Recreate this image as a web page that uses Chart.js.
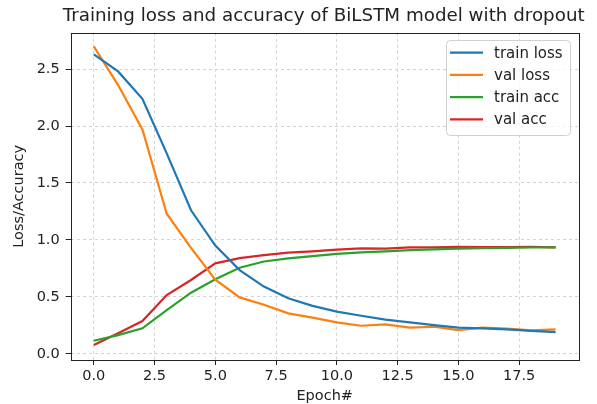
<!DOCTYPE html>
<html><head><meta charset="utf-8">
<script src="https://cdn.jsdelivr.net/npm/chart.js@4.4.0/dist/chart.umd.min.js"></script>
<style>html,body{margin:0;padding:0;background:#fff;overflow:hidden}#wrap{width:597px;height:404px;position:relative}</style>
</head><body><div id="wrap"><canvas id="c" width="597" height="404"></canvas></div>
<script>
const epochs = [0,1,2,3,4,5,6,7,8,9,10,11,12,13,14,15,16,17,18,19];
const trainLoss = [2.63,2.48,2.24,1.76,1.26,0.95,0.735,0.59,0.487,0.42,0.37,0.334,0.30,0.276,0.252,0.229,0.223,0.214,0.20,0.19];
const valLoss = [2.70,2.36,1.97,1.23,0.93,0.65,0.495,0.43,0.355,0.317,0.275,0.246,0.258,0.229,0.237,0.208,0.229,0.22,0.205,0.214];
const trainAcc = [0.114,0.164,0.223,0.384,0.536,0.654,0.755,0.81,0.838,0.858,0.877,0.89,0.9,0.91,0.917,0.923,0.927,0.93,0.933,0.935];
const valAcc = [0.076,0.18,0.287,0.516,0.648,0.794,0.84,0.867,0.888,0.9,0.914,0.926,0.923,0.935,0.935,0.94,0.937,0.937,0.94,0.935];
const seriesNames = ['train loss','val loss','train acc','val acc'];
const xTicks = [0,2.5,5,7.5,10,12.5,15,17.5];
const yTicks = [0,0.5,1,1.5,2,2.5];
const titleText = 'Training loss and accuracy of BiLSTM model with dropout';
const xLabel = 'Epoch#';
const yLabel = 'Loss/Accuracy';

const FONT = "'DejaVu Sans', sans-serif";
const colors = ['#1f77b4','#ff7f0e','#2ca02c','#d62728'];
const allSeries = [trainLoss, valLoss, trainAcc, valAcc];

const datasets = allSeries.map((arr, k) => ({
  label: seriesNames[k],
  data: epochs.map((e, i) => ({x: e, y: arr[i]})),
  borderColor: colors[k],
  backgroundColor: colors[k],
  borderWidth: 2.2,
  pointRadius: 0,
  tension: 0,
  fill: false
}));

const framePlugin = {
  id: 'frame',
  afterDraw(chart) {
    const {ctx, chartArea: a} = chart;
    ctx.save();
    ctx.strokeStyle = '#222';
    ctx.lineWidth = 1;
    ctx.strokeRect(Math.round(a.left) + 0.5, Math.round(a.top) + 0.5, Math.round(a.right - a.left), Math.round(a.bottom - a.top));
    // title centred over the plot area
    ctx.font = '18.3px ' + FONT;
    ctx.fillStyle = '#222';
    ctx.textAlign = 'center';
    ctx.textBaseline = 'middle';
    ctx.fillText(titleText, (a.left + a.right) / 2 - 1, 16.5);
    // legend
    const bx = 446, by = 40, bw = 124, bh = 95, r = 4;
    ctx.beginPath();
    ctx.roundRect(bx + 0.5, by + 0.5, bw, bh, r);
    ctx.fillStyle = 'rgba(255,255,255,0.8)';
    ctx.fill();
    ctx.strokeStyle = '#d0d0d0';
    ctx.stroke();
    ctx.font = '15px ' + FONT;
    ctx.textBaseline = 'middle';
    ctx.textAlign = 'left';
    chart.data.datasets.forEach((ds, i) => {
      const y = 52.7 + i * 22.2;
      ctx.beginPath();
      ctx.strokeStyle = ds.borderColor;
      ctx.lineWidth = 2.2;
      ctx.moveTo(450, y);
      ctx.lineTo(483, y);
      ctx.stroke();
      ctx.fillStyle = '#222';
      ctx.fillText(ds.label, 494, y + 1);
    });
    ctx.restore();
  }
};

new Chart(document.getElementById('c'), {
  type: 'line',
  data: {datasets},
  options: {
    responsive: false,
    animation: false,
    devicePixelRatio: 1,
    layout: {padding: {left: 0, right: 18.3, top: 32.7, bottom: 0}},
    plugins: {
      legend: {display: false},
      tooltip: {enabled: false},
      title: {display: false}
    },
    scales: {
      x: {
        type: 'linear', min: -0.95, max: 19.95,
        afterFit(s) { s.height = 44; },
        afterBuildTicks(s) { s.ticks = xTicks.map(v => ({value: v})); },
        ticks: {color: '#222', font: {family: FONT, size: 14.5}, padding: 3,
          maxRotation: 0, autoSkip: false, callback: v => Number(v).toFixed(1)},
        grid: {color: '#d3d3d3', lineWidth: 1, tickColor: '#222', tickLength: 5, tickWidth: 1},
        border: {display: false, dash: [3, 3]},
        title: {display: true, text: xLabel, color: '#222', font: {family: FONT, size: 14.5}, padding: {top: 0, bottom: -1}}
      },
      y: {
        type: 'linear', min: -0.055, max: 2.82,
        afterFit(s) { s.width = 70.7; },
        afterBuildTicks(s) { s.ticks = yTicks.map(v => ({value: v})); },
        ticks: {color: '#222', font: {family: FONT, size: 14.5}, padding: 6,
          autoSkip: false, callback: v => Number(v).toFixed(1)},
        grid: {color: '#d3d3d3', lineWidth: 1, tickColor: '#222', tickLength: 5, tickWidth: 1},
        border: {display: false, dash: [3, 3]},
        title: {display: true, text: yLabel, color: '#222', font: {family: FONT, size: 14.5}, padding: {top: 11, bottom: 0}}
      }
    }
  },
  plugins: [framePlugin]
});
</script>
</body></html>
